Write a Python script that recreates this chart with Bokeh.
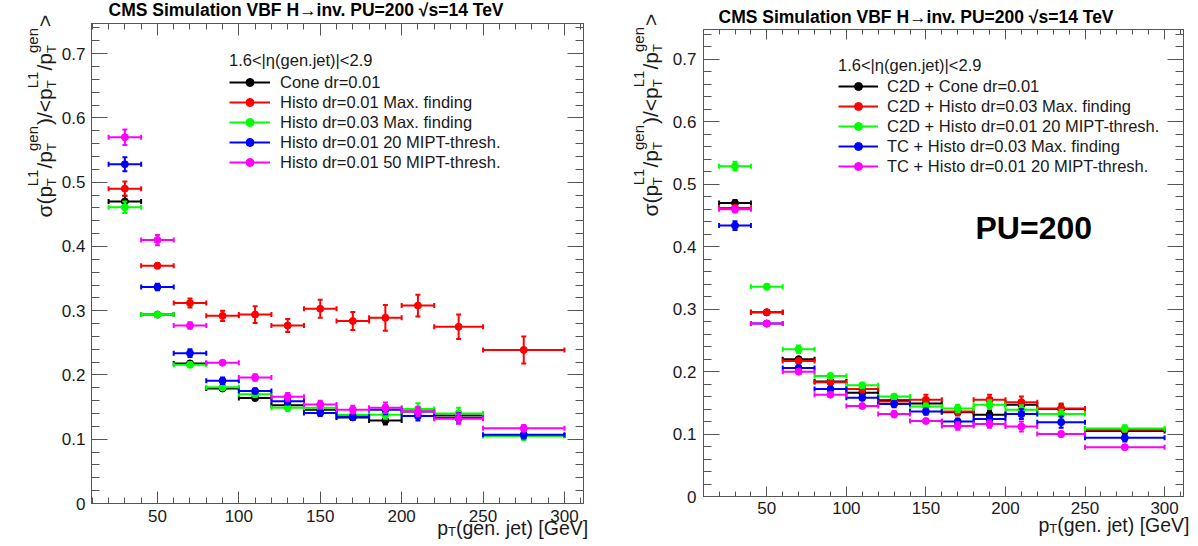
import math
from bokeh.plotting import figure
from bokeh.layouts import row, column
from bokeh.models import (FixedTicker, LinearAxis, Range1d, Label, Legend, LegendItem,
                          CustomJSTickFormatter)
from bokeh.embed import file_html
from bokeh.resources import INLINE

# ---------------- data ----------------
pt_lo = [20, 40, 60, 80, 100, 120, 140, 160, 180, 200, 220, 250]
pt_hi = [40, 60, 80, 100, 120, 140, 160, 180, 200, 220, 250, 300]
pt_center = [30, 50, 70, 90, 110, 130, 150, 170, 190, 210, 235, 275]

x_major = [50, 100, 150, 200, 250, 300]
x_minor = [10, 20, 30, 40, 50, 60, 70, 80, 90, 100, 110, 120, 130, 140, 150, 160,
           170, 180, 190, 200, 210, 220, 230, 240, 250, 260, 270, 280, 290, 300, 310]
y_major = [0, 0.1, 0.2, 0.3, 0.4, 0.5, 0.6, 0.7]
y_minor = [0, 0.02, 0.04, 0.06, 0.08, 0.1, 0.12, 0.14, 0.16, 0.18, 0.2, 0.22, 0.24,
           0.26, 0.28, 0.3, 0.32, 0.34, 0.36, 0.38, 0.4, 0.42, 0.44, 0.46, 0.48, 0.5,
           0.52, 0.54, 0.56, 0.58, 0.6, 0.62, 0.64, 0.66, 0.68, 0.7, 0.72, 0.74]

series_colors = ["#000000", "#ff0000", "#00ff00", "#0000ff", "#ff00ff"]

title_text = "CMS Simulation VBF H\u2192inv. PU=200  \u221as=14 TeV"
legend_header = "1.6<|\u03b7(gen.jet)|<2.9"
pu_text = "PU=200"

# left panel
left_labels = ["Cone dr=0.01", "Histo dr=0.01 Max. finding", "Histo dr=0.03 Max. finding",
               "Histo dr=0.01 20 MIPT-thresh.", "Histo dr=0.01 50 MIPT-thresh."]
left_cone = [0.470, 0.294, 0.218, 0.179, 0.164, 0.153, 0.146, 0.134, 0.129, 0.143, 0.137, 0.106]
left_cone_err = [0.009, 0.003, 0.003, 0.003, 0.003, 0.004, 0.004, 0.004, 0.006, 0.005, 0.006, 0.005]
left_histo001 = [0.490, 0.370, 0.312, 0.292, 0.294, 0.277, 0.303, 0.284, 0.289, 0.308, 0.275, 0.239]
left_histo001_err = [0.011, 0.004, 0.007, 0.008, 0.013, 0.010, 0.014, 0.014, 0.020, 0.017, 0.019, 0.021]
left_histo003 = [0.461, 0.294, 0.216, 0.181, 0.170, 0.149, 0.149, 0.138, 0.138, 0.147, 0.140, 0.105]
left_histo003_err = [0.009, 0.003, 0.004, 0.004, 0.004, 0.005, 0.008, 0.005, 0.006, 0.009, 0.009, 0.006]
left_histo20 = [0.528, 0.337, 0.234, 0.191, 0.175, 0.159, 0.141, 0.135, 0.146, 0.136, 0.133, 0.107]
left_histo20_err = [0.011, 0.005, 0.006, 0.005, 0.004, 0.005, 0.005, 0.005, 0.007, 0.007, 0.008, 0.006]
left_histo50 = [0.570, 0.410, 0.277, 0.219, 0.196, 0.166, 0.154, 0.146, 0.149, 0.143, 0.132, 0.117]
left_histo50_err = [0.012, 0.008, 0.005, 0.003, 0.005, 0.006, 0.006, 0.006, 0.008, 0.007, 0.008, 0.005]

# right panel
right_labels = ["C2D + Cone dr=0.01", "C2D + Histo dr=0.03 Max. finding",
                "C2D + Histo dr=0.01 20 MIPT-thresh.", "TC + Histo dr=0.03 Max. finding",
                "TC + Histo dr=0.01 20 MIPT-thresh."]
c2d_cone = [0.470, 0.295, 0.220, 0.184, 0.166, 0.154, 0.149, 0.135, 0.131, 0.147, 0.140, 0.105]
c2d_cone_err = [0.005, 0.003, 0.003, 0.003, 0.004, 0.004, 0.005, 0.005, 0.006, 0.007, 0.007, 0.005]
c2d_histo003 = [0.462, 0.295, 0.217, 0.183, 0.172, 0.152, 0.155, 0.136, 0.155, 0.151, 0.141, 0.107]
c2d_histo003_err = [0.005, 0.003, 0.004, 0.004, 0.006, 0.005, 0.008, 0.006, 0.008, 0.009, 0.008, 0.005]
c2d_histo20 = [0.529, 0.336, 0.236, 0.193, 0.178, 0.160, 0.144, 0.141, 0.147, 0.139, 0.132, 0.109]
c2d_histo20_err = [0.007, 0.004, 0.006, 0.004, 0.004, 0.004, 0.005, 0.006, 0.007, 0.007, 0.007, 0.005]
tc_histo003 = [0.434, 0.277, 0.206, 0.172, 0.158, 0.148, 0.136, 0.120, 0.124, 0.132, 0.119, 0.094]
tc_histo003_err = [0.007, 0.003, 0.003, 0.003, 0.004, 0.005, 0.005, 0.005, 0.006, 0.008, 0.009, 0.006]
tc_histo20 = [0.460, 0.277, 0.200, 0.163, 0.145, 0.132, 0.121, 0.113, 0.116, 0.112, 0.100, 0.079]
tc_histo20_err = [0.005, 0.003, 0.003, 0.003, 0.003, 0.005, 0.003, 0.006, 0.006, 0.008, 0.004, 0.003]

left_series = [left_cone, left_histo001, left_histo003, left_histo20, left_histo50]
left_errors = [left_cone_err, left_histo001_err, left_histo003_err, left_histo20_err, left_histo50_err]
right_series = [c2d_cone, c2d_histo003, c2d_histo20, tc_histo003, tc_histo20]
right_errors = [c2d_cone_err, c2d_histo003_err, c2d_histo20_err, tc_histo003_err, tc_histo20_err]

# ---------------- style ----------------
FONT = "Liberation Sans"
AXC = "#555555"
TXT = "#1a1a1a"
TOTAL_W, TOTAL_H = 1196, 545
OV_PULL = 551   # how far the text overlay is pulled up onto the two panels

# Arial / Liberation Sans advance widths (em/1000)
W = {'p': 556, 'T': 611, 'L': 556, '1': 556, 'g': 556, 'e': 556, 'n': 556, '(': 333,
     ')': 333, '/': 278, '<': 584, '>': 584, '\u03c3': 600, ' ': 278, '.': 278, 'j': 222,
     't': 278, '[': 278, ']': 278, 'G': 778, 'V': 667}


def tw(s, size):
    return sum(W.get(c, 556) for c in s) * size / 1000.0


def make_panel(cfg, series, errors, labels):
    fw, fh = cfg["fw"], cfg["fh"]
    p = figure(frame_width=fw, frame_height=fh, title=None,
               x_range=Range1d(*cfg["xr"]), y_range=Range1d(*cfg["yr"]),
               min_border_left=cfg["bl"], min_border_right=cfg["br"],
               min_border_top=cfg["bt"], min_border_bottom=cfg["bb"],
               output_backend="svg", toolbar_location=None)
    p.frame_align = False
    p.xgrid.grid_line_color = None
    p.ygrid.grid_line_color = None
    p.outline_line_color = AXC
    p.background_fill_color = "white"
    p.border_fill_color = "white"

    def style(ax, major, minor, tin, minin, labels_on, standoff):
        ax.ticker = FixedTicker(ticks=major, minor_ticks=minor)
        ax.major_tick_in = tin
        ax.major_tick_out = 0
        ax.minor_tick_in = minin
        ax.minor_tick_out = 0
        ax.axis_line_color = AXC
        ax.major_tick_line_color = AXC
        ax.minor_tick_line_color = AXC
        ax.major_label_standoff = standoff
        ax.major_label_text_font = FONT
        ax.major_label_text_color = TXT
        ax.axis_label = None
        if labels_on:
            ax.major_label_text_font_size = "17px"
        else:
            ax.major_label_text_font_size = "1px"
            ax.axis_label_standoff = 0
            ax.formatter = CustomJSTickFormatter(code="return ''")

    style(p.xaxis[0], x_major, x_minor, cfg["xt"], cfg["xt"] // 2, True, cfg["xs"])
    style(p.yaxis[0], y_major, y_minor, 16, 8, True, cfg["ys"])
    p.yaxis[0].major_label_overrides = {0: "0"}
    top = LinearAxis()
    style(top, x_major, x_minor, cfg["xt"], cfg["xt"] // 2, False, 0)
    p.add_layout(top, "above")
    right = LinearAxis()
    style(right, y_major, y_minor, 16, 8, False, 0)
    p.add_layout(right, "right")

    items = []
    for vals, errs, col, lab in zip(series, errors, series_colors, labels):
        lo_err = [v - e for v, e in zip(vals, errs)]
        hi_err = [v + e for v, e in zip(vals, errs)]
        hr = p.segment(x0=pt_lo, x1=pt_hi, y0=vals, y1=vals, line_color=col, line_width=2)
        p.segment(x0=pt_center, x1=pt_center, y0=lo_err, y1=hi_err, line_color=col, line_width=2)
        p.scatter(x=pt_center + pt_center, y=lo_err + hi_err, marker="dash", size=5,
                  line_color=col, line_width=2)
        p.scatter(x=pt_lo + pt_hi, y=vals + vals, marker="dash", angle=math.pi / 2, size=5,
                  line_color=col, line_width=2)
        mr = p.scatter(x=pt_center, y=vals, marker="circle", size=7, fill_color=col,
                       line_color=col)
        items.append(LegendItem(label=lab, renderers=[hr, mr]))

    legend = Legend(items=items, location=cfg["leg_loc"], title=legend_header,
                    title_text_font=FONT, title_text_font_size="16.5px",
                    title_text_font_style="normal", title_text_color=TXT,
                    title_standoff=cfg["leg_ts"],
                    label_text_font=FONT, label_text_font_size="16.5px",
                    label_text_color=TXT,
                    glyph_width=cfg["leg_gw"], glyph_height=20, label_height=20,
                    label_standoff=cfg["leg_ls"], spacing=0, padding=0, margin=0,
                    background_fill_alpha=0, border_line_alpha=0)
    p.add_layout(legend)
    return p


cfg_left = dict(fw=492, fh=480, xr=(9.5, 311.7), yr=(0, 0.747), bl=91, br=20, bt=23, bb=42,
                xt=12, xs=6, ys=6, leg_loc=(138, 331), leg_ts=2, leg_gw=41, leg_ls=10)
cfg_right = dict(fw=480, fh=467, xr=(10.2, 311.9), yr=(0, 0.748), bl=100, br=13, bt=29, bb=49,
                 xt=10, xs=5, ys=7, leg_loc=(135, 320), leg_ts=1, leg_gw=40, leg_ls=9)

p1 = make_panel(cfg_left, left_series, left_errors, left_labels)
p2 = make_panel(cfg_right, right_series, right_errors, right_labels)

# ---------------- transparent overlay carrying the texts outside the frames ----------------
ov = figure(width=TOTAL_W, height=TOTAL_H, title=None, x_range=Range1d(0, TOTAL_W),
            y_range=Range1d(TOTAL_H, 0), min_border=0, x_axis_type=None, y_axis_type=None,
            output_backend="svg", toolbar_location=None, margin=(-OV_PULL, 0, 0, 0))
ov.frame_align = False
ov.xgrid.grid_line_color = None
ov.ygrid.grid_line_color = None
ov.outline_line_color = None
ov.background_fill_alpha = 0
ov.border_fill_alpha = 0


def olab(txt, x, y, size, bold=False, angle=0.0, color=TXT):
    ov.add_layout(Label(x=x, y=y, text=txt, angle=angle, text_font=FONT,
                        text_font_size=f"{size}px",
                        text_font_style="bold" if bold else "normal", text_color=color,
                        text_baseline="alphabetic", text_align="left"))


def ylabel(xb, ystart):
    F, fs, fb = 21, 15, 13
    s = ystart
    rot = math.pi / 2
    for main, sup in [("\u03c3(p", "L1"), ("/p", "gen"), (")/<p", "L1"), ("/p", "gen")]:
        olab(main, xb, s, F, angle=rot)
        s -= tw(main, F)
        olab("T", xb + 7, s, fb, angle=rot)
        olab(sup, xb - 12, s, fs, angle=rot)
        s -= max(tw("T", fb), tw(sup, fs)) + 1
    olab(">", xb, s, F, angle=rot)


def xlabel(x0, y0):
    XF, xs_ = 19.5, 13
    olab("p", x0, y0, XF)
    olab("T", x0 + tw("p", XF), y0 + 4, xs_)
    olab("(gen. jet) [GeV]", x0 + tw("p", XF) + tw("T", xs_), y0, XF)


# panel 1 texts
olab(title_text, 108, 15.5, 17.5, bold=True, color="black")
ylabel(43.5, 223)
xlabel(436.7, 533)
# panel 2 texts
olab(title_text, 718, 22.7, 17.5, bold=True, color="black")
ylabel(650, 222)
xlabel(1038, 530)
olab(pu_text, 975, 233.3, 32, bold=True, color="black")

layout = column(row(p1, p2), ov)

open("out.html", "w").write(file_html(layout, INLINE))
